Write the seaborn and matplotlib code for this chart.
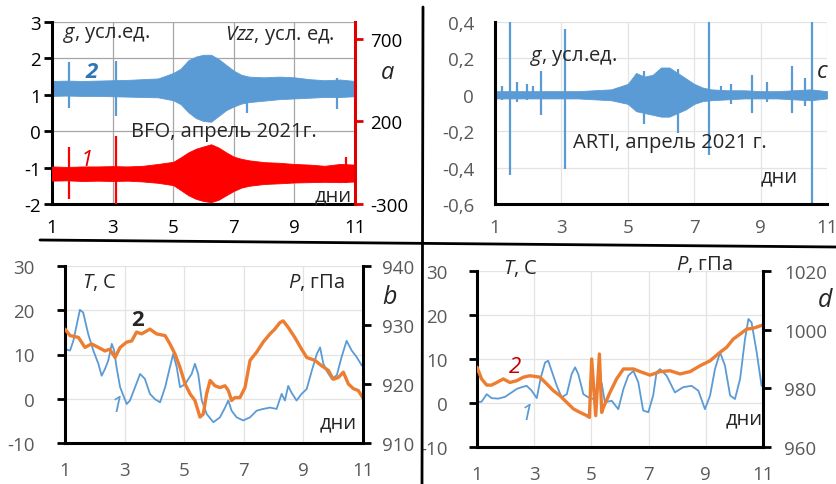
import matplotlib
matplotlib.use('Agg')
from matplotlib import pyplot as plt
from matplotlib.lines import Line2D
import seaborn as sns

# ---------------- data ----------------
# panel a: BFO record, envelope of the dense oscillations (g on left axis, Vzz on right axis)
bfo_days = [1, 1.5, 2, 2.5, 3, 3.5, 4, 4.5, 5, 5.25, 5.5, 5.75, 6, 6.25, 6.5, 6.75,
            7, 7.25, 7.5, 8, 8.5, 9, 9.5, 10, 10.5, 11]
bfo_g_top = [1.38, 1.39, 1.38, 1.39, 1.40, 1.41, 1.43, 1.45, 1.60, 1.72, 1.95, 2.05, 2.10,
             2.10, 1.98, 1.82, 1.66, 1.55, 1.50, 1.48, 1.50, 1.48, 1.43, 1.40, 1.42, 1.38]
bfo_g_bot = [0.97, 0.98, 0.97, 0.97, 0.96, 0.95, 0.94, 0.93, 0.85, 0.74, 0.52, 0.36, 0.28,
             0.26, 0.42, 0.58, 0.68, 0.76, 0.80, 0.84, 0.88, 0.90, 0.92, 0.94, 0.94, 0.96]
bfo_v_top = [-73, -76, -73, -73, -71, -73, -69, -58, -45, -18, 12, 34, 48,
             61, 41, 12, -14, -27, -36, -47, -51, -58, -62, -69, -58, -62]
bfo_v_bot = [-159, -157, -161, -159, -161, -159, -164, -172, -186, -216, -247, -269, -282,
             -289, -274, -247, -221, -201, -190, -179, -175, -170, -168, -166, -168, -164]
bfo_g_spike_days = [1.55, 3.1, 7.45, 10.4]
bfo_g_spike_top = [1.9, 1.93, 1.5, 1.45]
bfo_g_spike_bot = [0.64, 0.42, 0.5, 0.6]
bfo_v_spike_days = [1.55, 3.1, 10.7]
bfo_v_spike_top = [45, 111, -18]
bfo_v_spike_bot = [-269, -320, -175]

# panel c: ARTI record
arti_days = bfo_days
arti_top = [0.02, 0.02, 0.02, 0.02, 0.02, 0.02, 0.025, 0.03, 0.06, 0.12, 0.10, 0.11, 0.15,
            0.15, 0.12, 0.09, 0.06, 0.04, 0.03, 0.025, 0.025, 0.02, 0.02, 0.025, 0.03, 0.02]
arti_bot = [-0.02, -0.02, -0.02, -0.02, -0.02, -0.02, -0.025, -0.03, -0.05, -0.09, -0.10,
            -0.11, -0.12, -0.12, -0.10, -0.08, -0.05, -0.035, -0.03, -0.025, -0.02, -0.02,
            -0.02, -0.025, -0.03, -0.02]
arti_spike_days = [1.2, 1.45, 1.65, 1.95, 2.15, 2.4, 3.1, 5.5, 6.5, 7.45, 7.8, 8.1, 8.75,
                   9.2, 9.95, 10.35, 10.55]
arti_spike_top = [0.05, 0.42, 0.07, 0.06, 0.05, 0.13, 0.36, 0.13, 0.14, 0.42, 0.05, 0.06,
                  0.11, 0.07, 0.16, 0.09, 0.42]
arti_spike_bot = [-0.03, -0.44, -0.04, -0.03, -0.02, -0.11, -0.41, -0.16, -0.21, -0.33,
                  -0.03, -0.05, -0.10, -0.04, -0.10, -0.06, -0.62]

# panel b: BFO temperature (1) and pressure (2)
bfo_t_days = [1.0, 1.17, 1.28, 1.5, 1.61, 1.78, 1.95, 2.12, 2.23, 2.34, 2.45, 2.57, 2.65,
              2.73, 2.85, 3.07, 3.18, 3.35, 3.52, 3.68, 3.85, 4.02, 4.19, 4.36, 4.52, 4.63,
              4.75, 4.86, 5.03, 5.25, 5.36, 5.47, 5.59, 5.76, 5.98, 6.2, 6.37, 6.48, 6.59,
              6.76, 6.98, 7.21, 7.43, 7.65, 7.88, 8.1, 8.27, 8.38, 8.49, 8.6, 8.77, 8.94,
              9.11, 9.28, 9.45, 9.56, 9.67, 9.78, 9.95, 10.12, 10.28, 10.45, 10.62, 10.79,
              10.96]
bfo_t = [11.2, 10.9, 13.1, 20.1, 19.5, 14.6, 10.9, 7.9, 5.2, 6.7, 8.6, 12.4, 10.9, 7.1,
         2.6, -1.2, -0.4, 2.6, 5.6, 4.5, 1.1, -0.1, -0.8, 2.6, 7.1, 10.1, 7.1, 2.6, 3.3,
         5.6, 7.9, 5.6, -0.4, -3.5, -5.3, -4.2, -2.0, -0.4, -2.7, -4.2, -4.9, -4.2, -2.7,
         -2.3, -2.0, -2.3, 1.1, -0.4, 2.9, 1.4, -0.4, 1.1, 2.2, 6.3, 10.1, 11.6, 7.9, 6.3,
         4.5, 5.3, 9.4, 13.1, 10.9, 9.4, 7.5]
bfo_p_days = [1.0, 1.17, 1.45, 1.67, 1.89, 2.12, 2.34, 2.5, 2.68, 2.85, 3.07, 3.24, 3.4,
              3.57, 3.85, 4.07, 4.36, 4.52, 4.69, 4.86, 5.03, 5.2, 5.36, 5.53, 5.64, 5.75,
              5.87, 6.03, 6.2, 6.37, 6.48, 6.59, 6.7, 6.87, 7.04, 7.21, 7.43, 7.65, 7.88,
              8.04, 8.21, 8.32, 8.49, 8.71, 8.94, 9.11, 9.39, 9.61, 9.84, 10.0, 10.17,
              10.34, 10.51, 10.68, 10.84, 10.99]
bfo_p = [929.3, 928.2, 927.9, 926.2, 926.8, 926.2, 925.6, 925.9, 924.5, 926.2, 927.1,
         927.3, 928.8, 928.5, 929.3, 928.5, 928.2, 926.8, 925.1, 922.8, 920.0, 918.3,
         917.2, 914.4, 914.9, 918.3, 920.6, 919.7, 919.4, 919.7, 918.9, 917.2, 917.7,
         917.7, 919.4, 924.0, 925.4, 927.1, 928.5, 929.3, 930.4, 930.7, 929.6, 927.9,
         925.9, 924.5, 924.0, 923.1, 922.3, 920.8, 921.1, 922.0, 920.0, 919.2, 918.9, 917.7]

# panel d: ARTI temperature (1) and pressure (2)
arti_t_days = [1.01, 1.16, 1.34, 1.51, 1.75, 1.98, 2.21, 2.39, 2.56, 2.74, 2.91, 3.09,
               3.23, 3.38, 3.49, 3.61, 3.79, 3.96, 4.14, 4.31, 4.43, 4.54, 4.72, 4.89,
               5.07, 5.19, 5.36, 5.47, 5.71, 5.94, 6.12, 6.29, 6.47, 6.64, 6.81, 6.99,
               7.16, 7.28, 7.4, 7.63, 7.92, 8.21, 8.5, 8.74, 8.97, 9.15, 9.32, 9.5, 9.67,
               9.85, 10.02, 10.2, 10.37, 10.49, 10.6, 10.78, 10.95]
arti_t = [0.2, 0.3, 2.0, 1.1, 1.0, 1.4, 2.4, 3.2, 3.6, 3.9, 2.8, 1.1, 5.8, 9.2, 9.6, 7.3,
          3.9, 1.3, 2.0, 6.6, 8.1, 6.6, 2.0, 1.3, 0.9, 3.2, 4.5, 0.2, 0.5, -1.4, 3.2, 6.2,
          7.3, 4.7, -1.7, -2.1, 1.7, 7.0, 7.7, 6.2, 2.4, 3.6, 3.9, 2.8, -1.4, 1.7, 7.7,
          11.5, 8.5, 1.7, 0.9, 5.5, 14.5, 19.1, 18.3, 11.5, 3.9]
arti_p_days = [1.0, 1.16, 1.34, 1.51, 1.69, 1.92, 2.15, 2.39, 2.62, 2.85, 3.2, 3.44, 3.67,
               3.9, 4.14, 4.37, 4.6, 4.84, 4.93, 5.01, 5.15, 5.28, 5.36, 5.42, 5.65, 5.88,
               6.12, 6.47, 6.76, 7.05, 7.4, 7.75, 8.1, 8.45, 8.8, 9.15, 9.5, 9.73, 9.96,
               10.2, 10.43, 10.66, 11.0]
arti_p = [987.2, 983.2, 981.1, 981.1, 982.0, 983.2, 982.0, 982.6, 983.8, 984.3, 983.8,
          981.5, 979.2, 977.5, 975.2, 973.0, 971.8, 970.7, 970.1, 990.0, 970.7, 991.7,
          971.8, 973.5, 978.6, 983.2, 986.6, 986.6, 985.5, 984.5, 985.7, 986.0, 984.9,
          985.7, 987.7, 989.4, 992.3, 994.0, 996.8, 998.5, 1000.2, 1000.5, 1001.6]

day_ticks = [1, 3, 5, 7, 9, 11]
c_ticks = [-0.6, -0.4, -0.2, 0, 0.2, 0.4]
c_tick_labels = ['-0,6', '-0,4', '-0,2', '0', '0,2', '0,4']

# ---------------- style ----------------
sns.set_style('white')
plt.rcParams['font.family'] = ['Open Sans', 'DejaVu Sans']
plt.rcParams['mathtext.fontset'] = 'custom'
plt.rcParams['mathtext.it'] = 'Open Sans:italic'
plt.rcParams['mathtext.rm'] = 'Open Sans'
plt.rcParams['axes.unicode_minus'] = False

BLUE = '#5b9bd5'
ORANGE = '#ed7d31'
RED = '#ff0000'
GREY = '#595959'
FS = 14.5   # annotation text
TS = 13.5   # tick labels

W, H = 837, 485
fig = plt.figure(figsize=(W / 100, H / 100), dpi=100)


def box(l, t, r, b):
    return [l / W, 1 - b / H, (r - l) / W, (b - t) / H]


def base(ax, lab_color, grid_color, xpad, ypad):
    for s in ['top', 'right']:
        ax.spines[s].set_visible(False)
    for s in ['left', 'bottom']:
        ax.spines[s].set_linewidth(2.2)
        ax.spines[s].set_color('black')
    ax.set_xlim(1, 11)
    ax.set_xticks(day_ticks)
    ax.tick_params(axis='both', direction='out', length=6, width=2, color='black',
                   labelsize=TS, labelcolor=lab_color)
    ax.tick_params(axis='x', pad=xpad)
    ax.tick_params(axis='y', pad=ypad)
    ax.grid(True, color=grid_color, lw=0.9)
    ax.set_axisbelow(True)


def right_axis(ax, color, lab_color, pad):
    for s in ['top', 'left', 'bottom']:
        ax.spines[s].set_visible(False)
    ax.spines['right'].set_linewidth(2.2)
    ax.spines['right'].set_color(color)
    ax.tick_params(axis='y', direction='out', length=6, width=2, color=color,
                   labelsize=TS, labelcolor=lab_color, pad=pad)
    ax.grid(False)


# ---------------- panel a ----------------
ax_a = fig.add_axes(box(52, 23, 355, 205))
base(ax_a, 'black', '#a6a6a6', 4, 2)
ax_a.set_ylim(-2, 3)
ax_a.set_yticks([-2, -1, 0, 1, 2, 3])
ax_a.fill_between(bfo_days, bfo_g_bot, bfo_g_top, color=BLUE, lw=0.6)
ax_a.vlines(bfo_g_spike_days, bfo_g_spike_bot, bfo_g_spike_top, color=BLUE, lw=1.6)
ax_a2 = ax_a.twinx()
ax_a2.set_ylim(-300, 800)
ax_a2.set_yticks([-300, 200, 700])
right_axis(ax_a2, '#e00000', 'black', 5)
ax_a2.fill_between(bfo_days, bfo_v_bot, bfo_v_top, color=RED, lw=0.6)
ax_a2.vlines(bfo_v_spike_days, bfo_v_spike_bot, bfo_v_spike_top, color=RED, lw=1.6)

ax_a2.text(1.36, 726, '$g$, усл.ед.', fontsize=FS, va='center', ha='left')
ax_a2.text(10.35, 726, '$Vzz$, усл. ед.', fontsize=FS, va='center', ha='right')
ax_a2.text(2.32, 500, '2', fontsize=16, color='#2e75b6', style='italic',
           fontweight='bold', va='center', ha='center')
ax_a2.text(6.66, 140, 'BFO, апрель 2021г.', fontsize=FS, va='center', ha='center')
ax_a2.text(10.9, -250, 'дни', fontsize=FS, va='center', ha='right')
ax_a2.text(12.06, 500, 'a', fontsize=17, style='italic', va='center', ha='center',
           clip_on=False)
ax_a2.text(2.16, -30, '1', fontsize=16, color='#e00000', style='italic',
           va='center', ha='center')

# ---------------- panel c ----------------
ax_c = fig.add_axes(box(495, 23, 827, 205))
base(ax_c, GREY, '#e3e3e3', 4, 9)
ax_c.set_ylim(-0.6, 0.4)
ax_c.set_yticks(c_ticks)
ax_c.set_yticklabels(c_tick_labels)
ax_c.fill_between(arti_days, arti_bot, arti_top, color=BLUE, lw=0.6)
ax_c.vlines(arti_spike_days, arti_spike_bot, arti_spike_top, color=BLUE, lw=1.6)
ax_c.text(2.05, 0.21, '$g$, усл.ед.', fontsize=FS, va='center', ha='left')
ax_c.text(6.27, -0.26, 'ARTI, апрель 2021 г.', fontsize=FS, va='center', ha='center')
ax_c.text(10.13, -0.446, 'дни', fontsize=FS, va='center', ha='right')
ax_c.text(10.85, 0.13, 'c', fontsize=17, style='italic', va='center', ha='center')

# ---------------- panel b ----------------
ax_b = fig.add_axes(box(65, 267, 363, 444))
base(ax_b, GREY, '#e3e3e3', 7, 16)
ax_b.set_ylim(-10, 30)
ax_b.set_yticks([-10, 0, 10, 20, 30])
sns.lineplot(x=bfo_t_days, y=bfo_t, ax=ax_b, color=BLUE, lw=1.3)
ax_b2 = ax_b.twinx()
ax_b2.set_ylim(910, 940)
ax_b2.set_yticks([910, 920, 930, 940])
right_axis(ax_b2, 'black', GREY, 8)
sns.lineplot(x=bfo_p_days, y=bfo_p, ax=ax_b2, color=ORANGE, lw=2.4)
ax_b2.set_ylabel('')
ax_b.text(1.57, 26.4, '$T$, С', fontsize=FS, va='center', ha='left')
ax_b.text(10.4, 26.4, '$P$, гПа', fontsize=FS, va='center', ha='right')
ax_b.text(3.45, 18.0, '2', fontsize=16, fontweight='bold', va='center', ha='center',
          zorder=5)
ax_b.text(2.74, -1.6, '1', fontsize=16, color=BLUE, style='italic', va='center',
          ha='center')
ax_b.text(10.8, -5.3, 'дни', fontsize=FS, va='center', ha='right')
ax_b.text(11.9, 23, 'b', fontsize=18, style='italic', va='center', ha='center',
          clip_on=False)

# ---------------- panel d ----------------
ax_d = fig.add_axes(box(477, 272, 763, 448))
base(ax_d, GREY, '#e3e3e3', 7, 15)
ax_d.set_ylim(-10, 30)
ax_d.set_yticks([-10, 0, 10, 20, 30])
sns.lineplot(x=arti_t_days, y=arti_t, ax=ax_d, color=BLUE, lw=1.3)
ax_d2 = ax_d.twinx()
ax_d2.set_ylim(960, 1020)
ax_d2.set_yticks([960, 980, 1000, 1020])
right_axis(ax_d2, 'black', GREY, 9)
sns.lineplot(x=arti_p_days, y=arti_p, ax=ax_d2, color=ORANGE, lw=2.4)
ax_d2.set_ylabel('')
ax_d.text(1.91, 30.9, '$T$, С', fontsize=FS, va='center', ha='left', clip_on=False)
ax_d.text(9.95, 31.6, '$P$, гПа', fontsize=FS, va='center', ha='right', clip_on=False)
ax_d.text(2.33, 8.2, '2', fontsize=16, color='#c00000', style='italic', va='center',
          ha='center')
ax_d.text(2.75, -2.5, '1', fontsize=16, color=BLUE, style='italic', va='center',
          ha='center')
ax_d.text(11.0, -3.6, 'дни', fontsize=FS, va='center', ha='right')
ax_d.text(13.17, 23.6, 'd', fontsize=18, style='italic', va='center', ha='center',
          clip_on=False)

# separator lines between the four panels
fig.add_artist(Line2D([40 / W, 1], [1 - 241 / H, 1 - 248 / H], color='black', lw=2))
fig.add_artist(Line2D([423 / W, 422 / W], [1 - 8 / H, 0], color='black', lw=2))

fig.savefig('out.png', dpi=100)
